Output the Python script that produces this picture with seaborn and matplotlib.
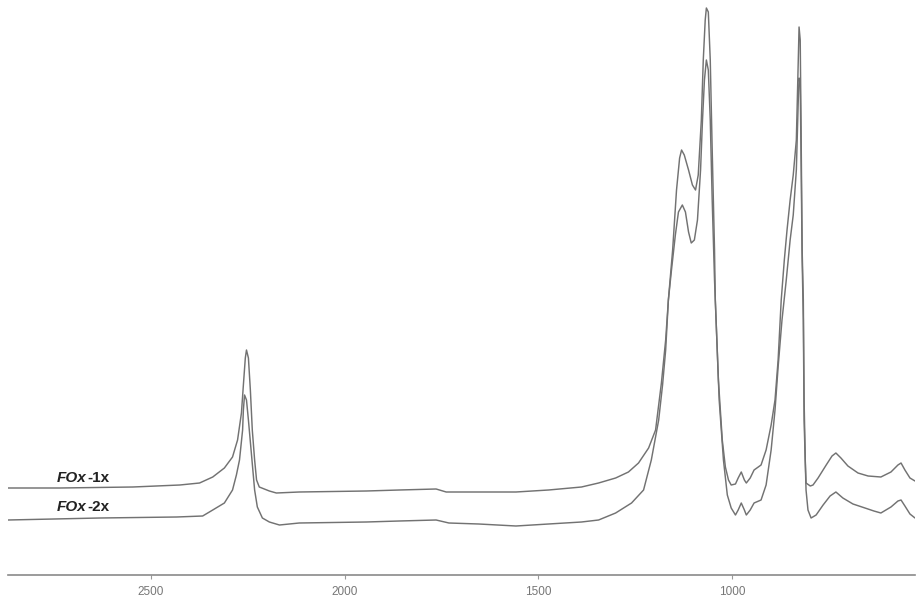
import matplotlib
matplotlib.use("Agg")
import matplotlib.pyplot as plt
import seaborn as sns
import pandas as pd

# FOx-1x (upper trace)
wn_1x = [2868, 2734, 2546, 2425, 2374, 2340, 2310, 2289, 2276, 2266, 2261, 2256, 2253, 2248, 2243, 2238,
         2232, 2227, 2220, 2194, 2176, 2117, 1944, 1859, 1764, 1738, 1654, 1558, 1474, 1389, 1345, 1301,
         1268, 1242, 1216, 1198, 1183, 1172, 1165, 1154, 1144, 1136, 1131, 1124, 1113, 1103, 1095, 1088,
         1080, 1075, 1070, 1067, 1062, 1057, 1052, 1046, 1044, 1036, 1026, 1018, 1010, 1003, 992, 985,
         977, 969, 964, 954, 944, 926, 913, 900, 890, 882, 874, 866, 859, 851, 843, 835, 830, 828, 825,
         823, 820, 817, 815, 812, 810, 799, 792, 779, 758, 743, 733, 720, 702, 676, 650, 617, 591, 573,
         565, 555, 542, 529]
abs_1x = [0.87, 0.87, 0.88, 0.90, 0.92, 0.98, 1.07, 1.18, 1.35, 1.62, 1.90, 2.17, 2.25, 2.17, 1.85, 1.45,
          1.15, 0.95, 0.88, 0.84, 0.82, 0.83, 0.84, 0.85, 0.86, 0.83, 0.83, 0.83, 0.85, 0.88, 0.92, 0.97,
          1.03, 1.12, 1.27, 1.45, 1.92, 2.35, 2.75, 3.25, 3.85, 4.17, 4.25, 4.20, 4.05, 3.90, 3.85, 4.00,
          4.55, 5.15, 5.55, 5.67, 5.63, 5.15, 4.25, 3.25, 2.75, 1.95, 1.35, 1.08, 0.95, 0.90, 0.91, 0.97,
          1.03, 0.95, 0.92, 0.97, 1.05, 1.10, 1.25, 1.50, 1.75, 2.15, 2.75, 3.15, 3.45, 3.75, 4.00, 4.35,
          5.15, 5.48, 5.35, 4.55, 3.25, 2.75, 1.75, 1.15, 0.92, 0.89, 0.90, 0.97, 1.10, 1.19, 1.22, 1.17,
          1.09, 1.02, 0.99, 0.98, 1.03, 1.10, 1.12, 1.05, 0.97, 0.94]

# FOx-2x (lower trace)
wn_2x = [2868, 2631, 2433, 2366, 2340, 2310, 2289, 2279, 2271, 2263, 2261, 2258, 2253, 2248, 2240, 2232,
         2225, 2212, 2194, 2168, 2117, 1944, 1859, 1764, 1731, 1654, 1558, 1474, 1389, 1345, 1301, 1260,
         1229, 1209, 1190, 1180, 1172, 1165, 1157, 1147, 1139, 1129, 1121, 1113, 1106, 1098, 1090, 1082,
         1077, 1072, 1067, 1062, 1057, 1052, 1046, 1041, 1034, 1023, 1013, 1003, 992, 985, 977, 969, 964,
         954, 944, 926, 913, 900, 890, 882, 872, 861, 851, 843, 835, 830, 828, 825, 823, 820, 817, 815,
         810, 805, 797, 784, 766, 748, 733, 715, 689, 658, 635, 617, 591, 573, 565, 555, 542, 529]
abs_2x = [0.55, 0.57, 0.58, 0.59, 0.65, 0.72, 0.85, 1.00, 1.15, 1.45, 1.65, 1.80, 1.75, 1.55, 1.20, 0.85,
          0.68, 0.57, 0.53, 0.50, 0.52, 0.53, 0.54, 0.55, 0.52, 0.51, 0.49, 0.51, 0.53, 0.55, 0.62, 0.72,
          0.85, 1.15, 1.55, 1.90, 2.25, 2.75, 3.05, 3.40, 3.63, 3.70, 3.63, 3.43, 3.32, 3.35, 3.55, 4.05,
          4.55, 4.95, 5.15, 5.05, 4.55, 3.75, 2.95, 2.45, 1.75, 1.15, 0.80, 0.67, 0.60, 0.65, 0.72, 0.65,
          0.60, 0.65, 0.72, 0.75, 0.90, 1.25, 1.65, 2.08, 2.55, 2.95, 3.35, 3.60, 4.05, 4.75, 4.97, 4.90,
          4.25, 3.15, 2.55, 1.55, 0.85, 0.65, 0.57, 0.60, 0.70, 0.79, 0.83, 0.77, 0.71, 0.67, 0.64, 0.62,
          0.68, 0.74, 0.75, 0.69, 0.61, 0.57]

sample_names = ["FOx-1x", "FOx-2x"]
tick_values = [2500, 2000, 1500, 1000]

df = pd.concat([
    pd.DataFrame({"wn": wn_1x, "A": abs_1x, "sample": sample_names[0]}),
    pd.DataFrame({"wn": wn_2x, "A": abs_2x, "sample": sample_names[1]}),
])

sns.set_theme(style="white")
plt.rcParams["font.family"] = ["Liberation Sans", "DejaVu Sans"]

fig = plt.figure(figsize=(9.17, 6.04), dpi=100)
ax = fig.add_axes([8 / 917, 29 / 604, 907 / 917, 575 / 604])

line_color = "#727272"
sns.lineplot(data=df, x="wn", y="A", hue="sample", palette=[line_color, line_color],
             estimator=None, legend=False, linewidth=1.05, ax=ax)

ax.set_xlim(2868, 529)
ax.set_ylim(0, 5.75)
ax.set_xlabel("")
ax.set_ylabel("")
ax.set_yticks([])
ax.set_xticks(tick_values)
ax.set_xticklabels([str(t) for t in tick_values], color="#777777", fontsize=8.5,
                   family=["Liberation Sans Narrow", "Liberation Sans", "DejaVu Sans"])
ax.tick_params(axis="x", direction="out", length=3, width=0.8, color="#999999", pad=5, bottom=True)

for s in ["top", "left", "right"]:
    ax.spines[s].set_visible(False)
ax.spines["bottom"].set_color("#8a8a8a")
ax.spines["bottom"].set_linewidth(1.2)

label_y = [0.97, 0.68]
for name, y in zip(sample_names, label_y):
    prefix, suffix = name[:3], name[3:]
    t1 = ax.text(2742, y, prefix, fontsize=11, fontweight="bold", fontstyle="italic",
                 color="#222222", ha="left", va="center")
    ax.annotate(suffix, xy=(1, 0.5), xycoords=t1, xytext=(0.2, 0), textcoords="offset points",
                ha="left", va="center", fontsize=11, fontweight="bold", color="#222222")

fig.savefig("out.png", dpi=100)
